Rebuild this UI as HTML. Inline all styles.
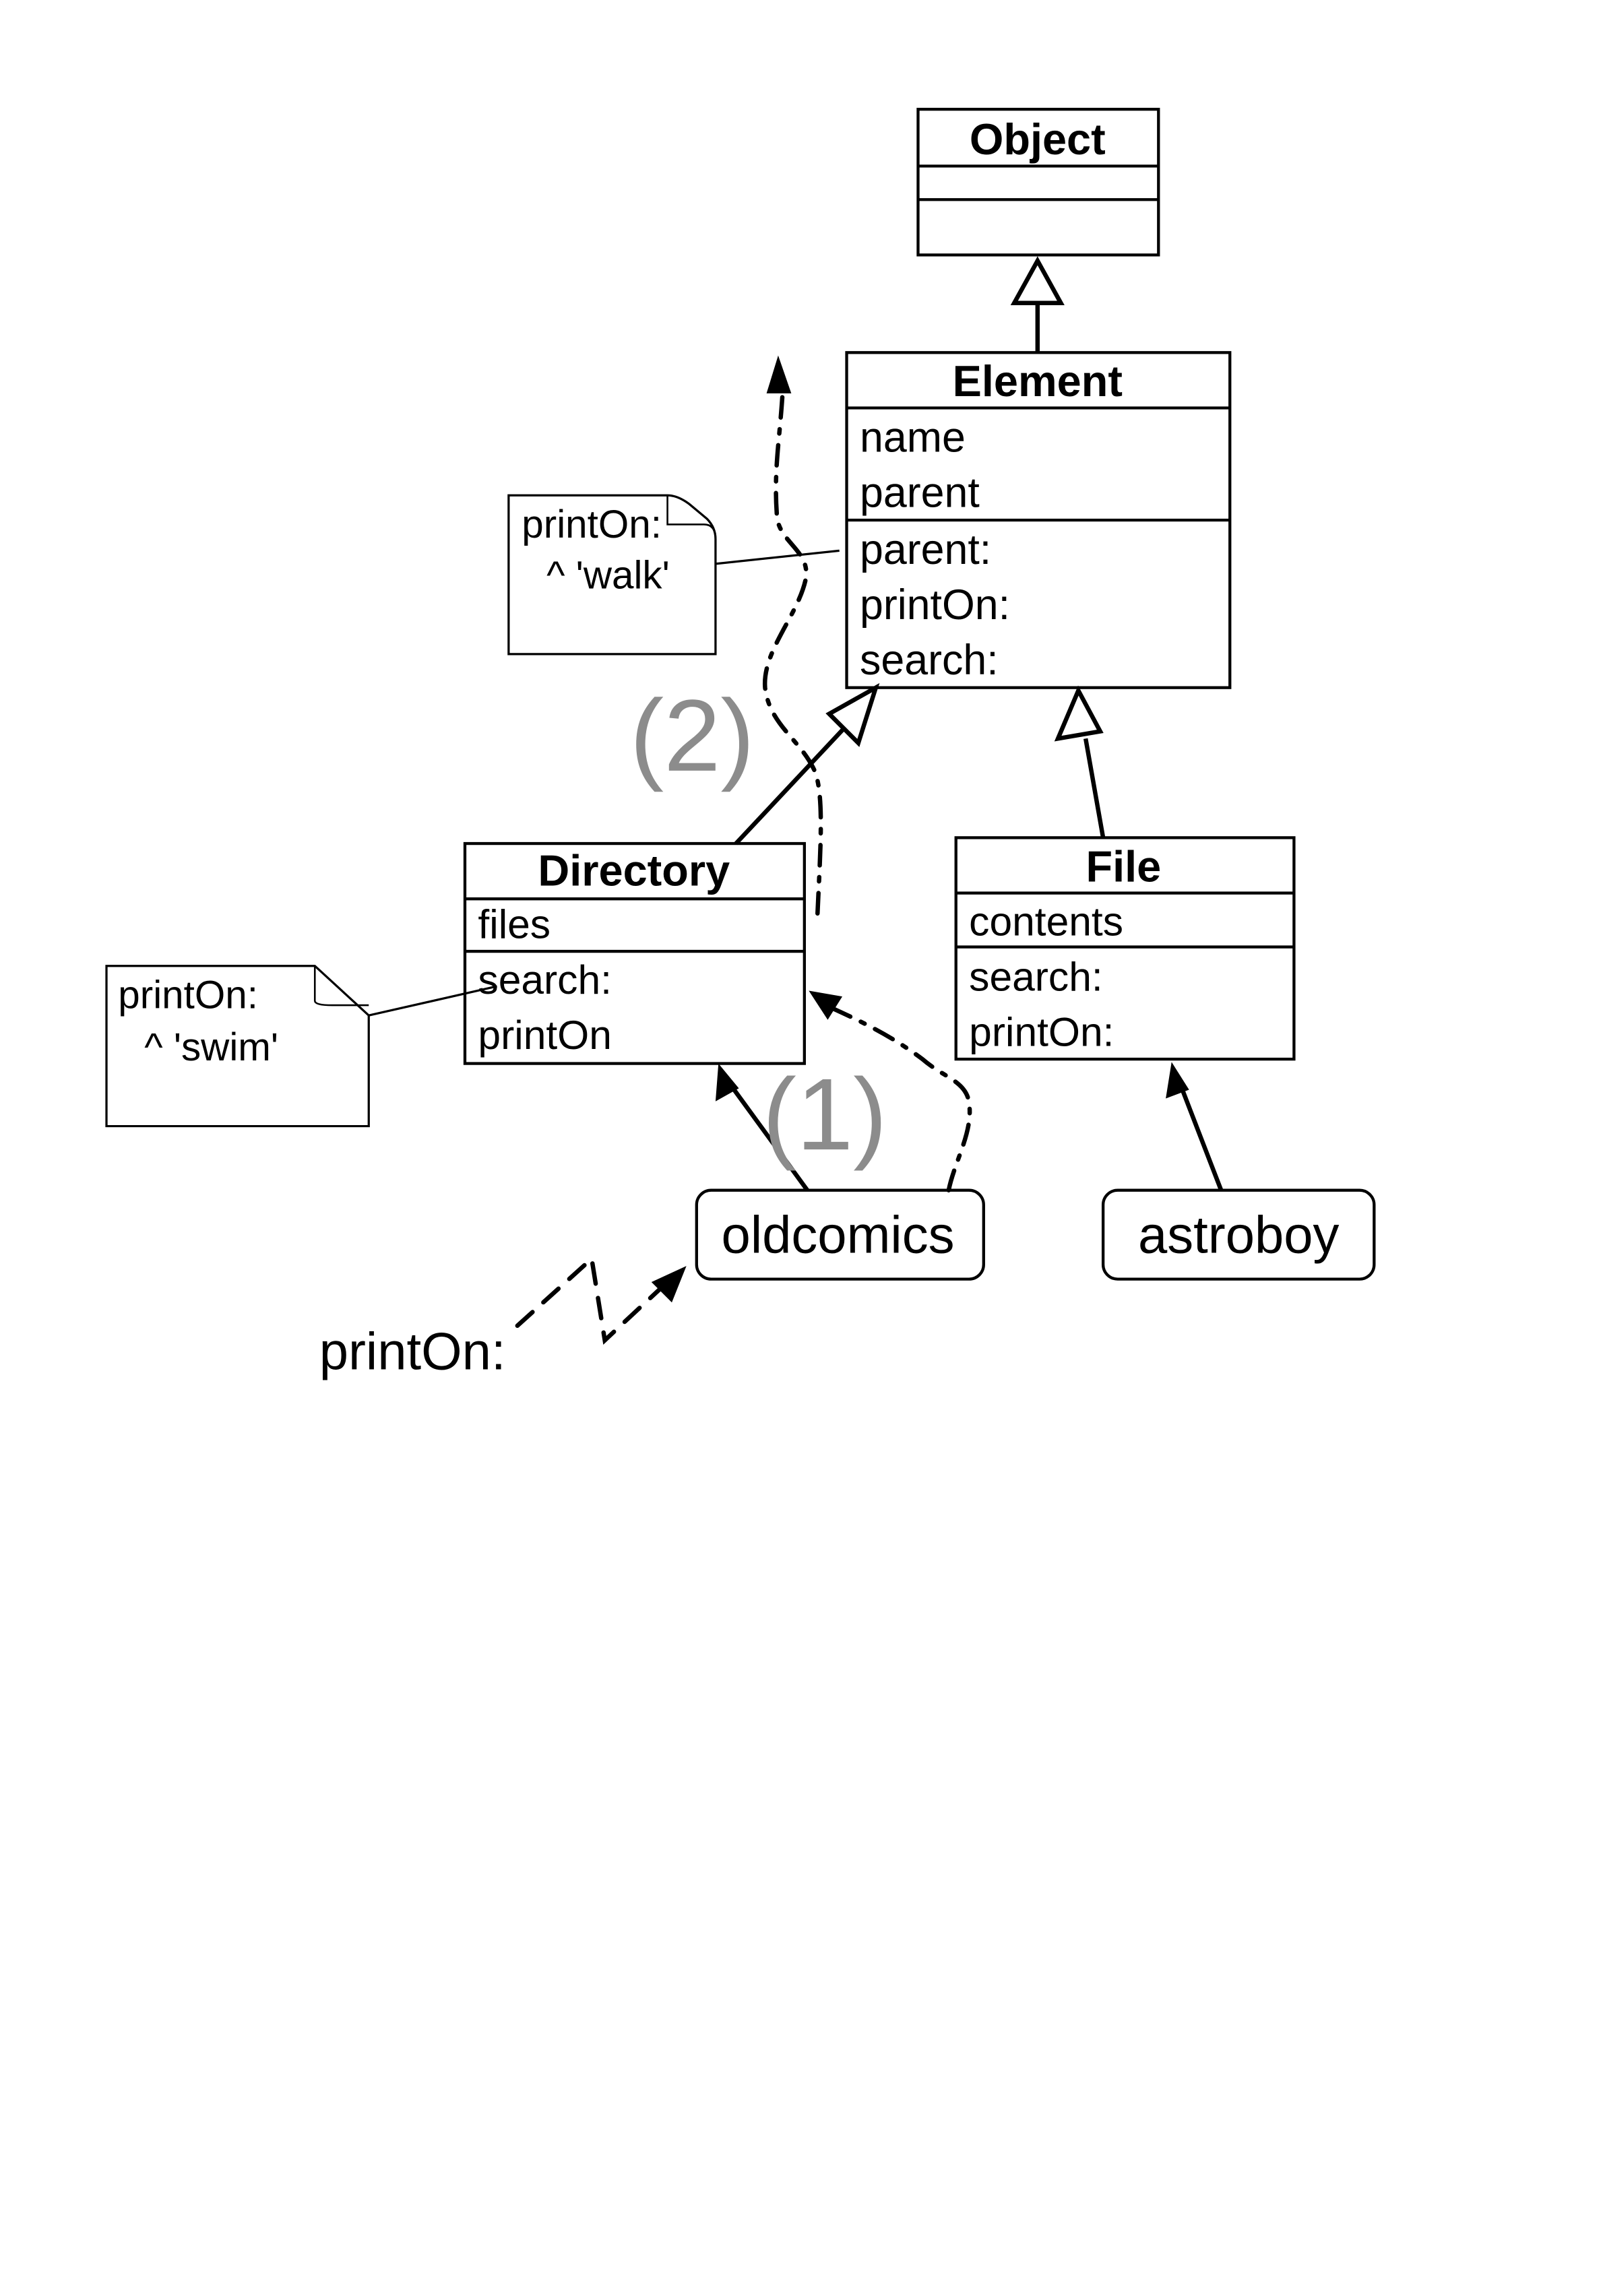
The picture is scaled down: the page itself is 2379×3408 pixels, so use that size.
<!DOCTYPE html>
<html><head><meta charset="utf-8"><style>
html,body{margin:0;padding:0;background:#fff;}
svg{display:block;}
text{font-family:"Liberation Sans",Arial,sans-serif;}
</style></head><body>
<svg width="2379" height="3408" viewBox="0 0 1100 1576" xmlns="http://www.w3.org/2000/svg">
<rect width="1100" height="1576" fill="#fff"/>
<g transform="translate(3,2)">
<g fill="none" stroke="#000" stroke-width="2">
<rect x="627" y="73" width="165" height="100"/>
<line x1="627" y1="112" x2="792" y2="112"/>
<line x1="627" y1="135" x2="792" y2="135"/>
<rect x="578" y="240" width="263" height="230"/>
<line x1="578" y1="278" x2="841" y2="278"/>
<line x1="578" y1="355" x2="841" y2="355"/>
<rect x="316" y="577" width="233" height="151"/>
<line x1="316" y1="615" x2="549" y2="615"/>
<line x1="316" y1="651" x2="549" y2="651"/>
<rect x="653" y="573" width="232" height="152"/>
<line x1="653" y1="611" x2="885" y2="611"/>
<line x1="653" y1="648" x2="885" y2="648"/>
<rect x="475" y="815" width="197" height="61" rx="10"/>
<rect x="754" y="815" width="186" height="61" rx="10"/>
<path d="M346 338 H455 Q462 338 470 344 L482 354 Q488 360 488 368 V447 H346 Z" stroke-width="1.5"/>
<path d="M455 338 V358 H480 Q488 358 488 368" stroke-width="1.2"/>
<path d="M70 661 H213 L250 695 V771 H70 Z" stroke-width="1.5"/>
<path d="M213 661 V685 Q213 688 225 688 H250" stroke-width="1.2"/>
<line x1="488" y1="385" x2="573" y2="376" stroke-width="1.5"/>
<line x1="250" y1="695" x2="338" y2="675" stroke-width="1.5"/>
<line x1="709" y1="206" x2="709" y2="240" stroke-width="3"/>
<line x1="502" y1="577" x2="578" y2="496" stroke-width="3"/>
<line x1="754" y1="573" x2="742" y2="505" stroke-width="3"/>
<line x1="551" y1="815" x2="500" y2="745" stroke-width="3"/>
<line x1="835" y1="815" x2="808" y2="745" stroke-width="3"/>
<path d="M558 625 C560 580 563 540 555 525 C545 505 525 495 522 470 C520 445 545 420 550 395 C553 375 530 370 530 350 C528 320 532 300 534 268" stroke-width="3" stroke-dasharray="14 8 3 8" stroke-linecap="round"/>
<path d="M648 815 C652 795 665 775 662 755 C660 740 645 738 630 725 C610 710 590 700 568 690" stroke-width="3" stroke-dasharray="14 8 3 8" stroke-linecap="round"/>
<path d="M352 908 L403 862 L412 918 L455 878" stroke-width="3" stroke-dasharray="14 10" stroke-linecap="round"/>
</g>
<g fill="#fff" stroke="#000" stroke-width="3">
<polygon points="709,177 693,206 725,206"/>
<polygon points="598,470 566,488 586,508"/>
<polygon points="737,472 723,505 752,500"/>
</g>
<g fill="#000">
<polygon points="531,242 523,268 540,268"/>
<polygon points="490,728 488,754 504,745"/>
<polygon points="801,727 797,752 813,746"/>
<polygon points="552,678 575,682 565,698"/>
<polygon points="468,867 444,878 458,892"/>
</g>
<g fill="#000">
<text x="709" y="104" font-size="30" font-weight="bold" text-anchor="middle">Object</text>
<text x="709" y="270" font-size="30" font-weight="bold" text-anchor="middle">Element</text>
<g font-size="29">
<text x="587" y="308">name</text>
<text x="587" y="346">parent</text>
<text x="587" y="385">parent:</text>
<text x="587" y="423">printOn:</text>
<text x="587" y="461">search:</text>
</g>
<text x="432" y="606" font-size="30" font-weight="bold" text-anchor="middle">Directory</text>
<g font-size="28">
<text x="325" y="642">files</text>
<text x="325" y="680">search:</text>
<text x="325" y="718">printOn</text>
</g>
<text x="768" y="603" font-size="30" font-weight="bold" text-anchor="middle">File</text>
<g font-size="28">
<text x="662" y="640">contents</text>
<text x="662" y="678">search:</text>
<text x="662" y="716">printOn:</text>
</g>
<text x="572" y="858" font-size="36" text-anchor="middle">oldcomics</text>
<text x="847" y="858" font-size="36" text-anchor="middle">astroboy</text>
<text x="216" y="938" font-size="36">printOn:</text>
<g font-size="27">
<text x="355" y="367">printOn:</text>
<text x="372" y="402">^ 'walk'</text>
<text x="78" y="690">printOn:</text>
<text x="96" y="726">^ 'swim'</text>
</g>
</g>
<text x="472" y="527" font-size="70" fill="#8c8c8c" text-anchor="middle">(2)</text>
<text x="563" y="787" font-size="70" fill="#8c8c8c" text-anchor="middle">(1)</text>
</g>
</svg>
</body></html>
